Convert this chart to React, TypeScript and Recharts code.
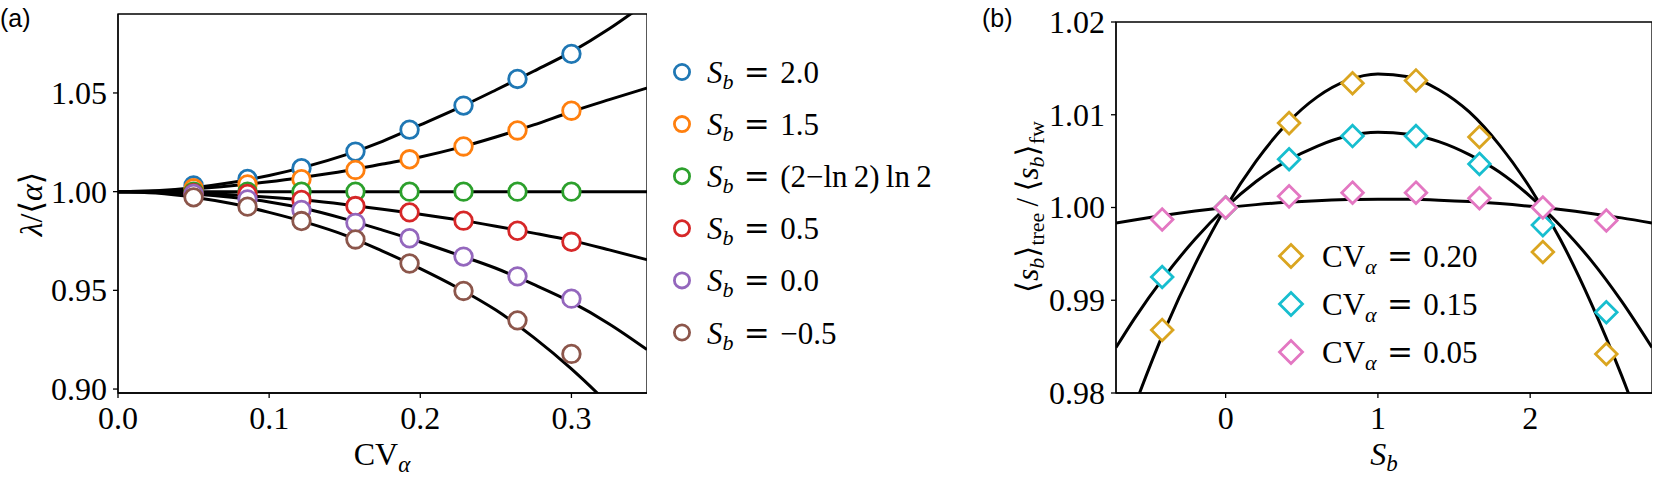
import React from 'react';
import { ComposedChart, Line, Scatter, XAxis, YAxis, ReferenceArea } from 'recharts';

// ---------- Panel (a) data ----------
const cvMarkers = [0.05, 0.0857, 0.1214, 0.1571, 0.1929, 0.2286, 0.2643, 0.3];
const sbNames = ['2.0', '1.5', '(2\u2212ln\u20092)\u2009ln\u20092', '0.5', '0.0', '\u22120.5'];
const sbColors = ['#1f77b4', '#ff7f0e', '#2ca02c', '#d62728', '#9467bd', '#8c564b'];
const ratioSb20 = [1.0031, 1.0064, 1.0119, 1.0203, 1.0314, 1.0436, 1.0571, 1.0698];
const ratioSb15 = [1.0017, 1.0037, 1.0063, 1.011, 1.0164, 1.0229, 1.031, 1.041];
const ratioSbLn = [1.0, 1.0, 1.0, 1.0, 1.0, 1.0, 1.0, 1.0];
const ratioSb05 = [0.9992, 0.9988, 0.9958, 0.9927, 0.9895, 0.9853, 0.9802, 0.9746];
const ratioSb00 = [0.9988, 0.9961, 0.9907, 0.9842, 0.9764, 0.9671, 0.9571, 0.9458];
const ratioSbM05 = [0.9971, 0.9924, 0.9851, 0.9758, 0.9636, 0.9497, 0.9348, 0.9178];

const cvCurve = [0, 0.025, 0.05, 0.075, 0.1, 0.125, 0.15, 0.175, 0.2, 0.225, 0.25, 0.275, 0.3, 0.325, 0.35];
const curveSb20 = [1.0, 1.0005, 1.002, 1.0046, 1.0082, 1.0128, 1.0185, 1.0255, 1.0338, 1.0423, 1.0515, 1.061, 1.0708, 1.0825, 1.096];
const curveSb15 = [1.0, 1.0003, 1.0014, 1.003, 1.005, 1.0076, 1.0105, 1.014, 1.0176, 1.0222, 1.0277, 1.0338, 1.0405, 1.0466, 1.0525];
const curveSbLn = [1, 1, 1, 1, 1, 1, 1, 1, 1, 1, 1, 1, 1, 1, 1];
const curveSb05 = [1.0, 0.9998, 0.9993, 0.9984, 0.9972, 0.9956, 0.9935, 0.9911, 0.9885, 0.9857, 0.9825, 0.979, 0.9752, 0.9705, 0.9655];
const curveSb00 = [1.0, 0.9997, 0.9988, 0.9972, 0.9948, 0.9912, 0.9862, 0.9805, 0.9745, 0.968, 0.9612, 0.953, 0.944, 0.933, 0.92];
const curveSbM05 = [1.0, 0.9993, 0.9972, 0.994, 0.9895, 0.9843, 0.978, 0.9699, 0.961, 0.9512, 0.94, 0.9262, 0.9102, 0.892, 0.872];

const aXTicks = [0, 0.1, 0.2, 0.3];
const aYTicks = [0.9, 0.95, 1.0, 1.05];
const aXDomain = [0, 0.35];
const aYDomain = [0.898, 1.09];

// ---------- Panel (b) data ----------
const sbMarkers = [-0.4167, 0, 0.4167, 0.8333, 1.25, 1.6667, 2.0833, 2.5];
const cvNames = ['0.20', '0.15', '0.05'];
const cvColors = ['#daa520', '#17becf', '#e377c2'];
const treeCv20 = [0.9868, 1.0, 1.0091, 1.0134, 1.0137, 1.0076, 0.9952, 0.9842];
const treeCv15 = [0.9925, 1.0, 1.0052, 1.0077, 1.0077, 1.0047, 0.9981, 0.9887];
const treeCv05 = [0.9987, 1.0, 1.0012, 1.0016, 1.0016, 1.001, 1.0, 0.9986];

const sbCurve = [-0.72, -0.6, -0.4, -0.2, 0, 0.2, 0.4, 0.6, 0.8, 1.0, 1.2, 1.4, 1.6, 1.8, 2.0, 2.2, 2.4, 2.6, 2.8];
const curveCv20 = [0.9731, 0.9785, 0.9868, 0.9939, 1.0, 1.005, 1.009, 1.0119, 1.0137, 1.0144, 1.0141, 1.0127, 1.0103, 1.0067, 1.0021, 0.9965, 0.9897, 0.9819, 0.9731];
const curveCv15 = [0.9849, 0.988, 0.9926, 0.9966, 1.0, 1.0028, 1.005, 1.0066, 1.0077, 1.0081, 1.0079, 1.0071, 1.0057, 1.0038, 1.0012, 0.998, 0.9943, 0.9899, 0.9849];
const curveCv05 = [0.99832, 0.99866, 0.99917, 0.99962, 1.0, 1.00031, 1.00056, 1.00074, 1.00085, 1.0009, 1.00088, 1.00079, 1.00064, 1.00042, 1.00013, 0.99978, 0.99936, 0.99888, 0.99832];

const bXTicks = [0, 1, 2];
const bYTicks = [0.98, 0.99, 1.0, 1.01, 1.02];
const bXDomain = [-0.72, 2.8];
const bYDomain = [0.98, 1.02];

// ---------- helpers ----------
const zip = (xs: number[], ys: number[]) => xs.map((x, i) => ({ x, y: ys[i] }));

const aMarkerSeries = [ratioSb20, ratioSb15, ratioSbLn, ratioSb05, ratioSb00, ratioSbM05];
const aCurveSeries = [curveSb20, curveSb15, curveSbLn, curveSb05, curveSb00, curveSbM05];
const bMarkerSeries = [treeCv20, treeCv15, treeCv05];
const bCurveSeries = [curveCv20, curveCv15, curveCv05];

const SERIF = "'Liberation Serif', 'DejaVu Serif', serif";
const EQ_FONT = "'DejaVu Serif', serif";
const SP = '\u2004';

const XTick = (fmt: (v: number) => string) => (p: any) => (
  <text
    x={p.x}
    y={p.y}
    dy="0.71em"
    textAnchor="middle"
    fontFamily={SERIF}
    fontSize={32}
    fill="#000"
  >
    {fmt(p.payload.value)}
  </text>
);
const YTick = (fmt: (v: number) => string) => (p: any) => (
  <text
    x={p.x}
    y={p.y}
    dy="0.34em"
    textAnchor="end"
    fontFamily={SERIF}
    fontSize={32}
    fill="#000"
  >
    {fmt(p.payload.value)}
  </text>
);

const circleShape = (color: string) => (p: any) => (
  <circle cx={p.cx} cy={p.cy} r={8.8} fill="#fff" stroke={color} strokeWidth={2.8} />
);
const diamondShape = (color: string) => (p: any) => {
  const h = 10.8;
  return (
    <polygon
      points={`${p.cx},${p.cy - h} ${p.cx + h},${p.cy} ${p.cx},${p.cy + h} ${p.cx - h},${p.cy}`}
      fill="#fff"
      stroke={color}
      strokeWidth={2.8}
    />
  );
};

const SbText = ({ x, y, value }: { x: number; y: number; value: string }) => (
  <text x={x} y={y} fontFamily={SERIF} fontSize={31} fill="#000">
    <tspan fontStyle="italic">S</tspan>
    <tspan fontStyle="italic" fontSize={22} dy={6}>b</tspan>
    <tspan dy={-6}>{SP}</tspan>
    <tspan fontFamily={EQ_FONT} fontWeight={300}>=</tspan>
    <tspan>{SP + value}</tspan>
  </text>
);

const CvText = ({ x, y, value }: { x: number; y: number; value: string }) => (
  <text x={x} y={y} fontFamily={SERIF} fontSize={31} fill="#000">
    <tspan>CV</tspan>
    <tspan fontStyle="italic" fontSize={22} dy={7}>{'\u03b1'}</tspan>
    <tspan dy={-7}>{SP}</tspan>
    <tspan fontFamily={EQ_FONT} fontWeight={300}>=</tspan>
    <tspan>{SP + value}</tspan>
  </text>
);

const axisLineStyle = { stroke: '#000', strokeWidth: 1.3 };

export default function App() {
  return (
    <div style={{ position: 'absolute', left: 0, top: 0, width: 1661, height: 485, background: '#fff' }}>
      {/* Panel (a) */}
      <div style={{ position: 'absolute', left: 0, top: 0 }}>
        <ComposedChart width={647} height={485} margin={{ top: 14, right: 0, bottom: 0, left: 0 }}>
          <XAxis
            dataKey="x"
            type="number"
            domain={aXDomain}
            ticks={aXTicks}
            allowDataOverflow
            height={92}
            tickSize={5}
            tickMargin={8}
            tick={XTick((v) => v.toFixed(1))}
            stroke="#000"
            axisLine={axisLineStyle}
            tickLine={axisLineStyle}
          />
          <YAxis
            dataKey="y"
            type="number"
            domain={aYDomain}
            ticks={aYTicks}
            allowDataOverflow
            width={118}
            tickSize={5}
            tickMargin={6}
            tick={YTick((v) => v.toFixed(2))}
            stroke="#000"
            axisLine={axisLineStyle}
            tickLine={axisLineStyle}
          />
          {aCurveSeries.map((c, i) => (
            <Line
              key={'ac' + i}
              data={zip(cvCurve, c)}
              dataKey="y"
              type="monotone"
              stroke="#000"
              strokeWidth={3}
              dot={false}
              isAnimationActive={false}
            />
          ))}
          {aMarkerSeries.map((s, i) => (
            <Scatter
              key={'am' + i}
              data={zip(cvMarkers, s)}
              dataKey="y"
              shape={circleShape(sbColors[i])}
              isAnimationActive={false}
            />
          ))}
          <ReferenceArea
            x1={aXDomain[0]}
            x2={aXDomain[1]}
            y1={aYDomain[0]}
            y2={aYDomain[1]}
            fill="none"
            fillOpacity={0}
            stroke="#000"
            strokeWidth={1.3}
          />
        </ComposedChart>
      </div>

      {/* Panel (b) */}
      <div style={{ position: 'absolute', left: 960, top: 0 }}>
        <ComposedChart width={692} height={485} margin={{ top: 22, right: 0, bottom: 0, left: 0 }}>
          <XAxis
            dataKey="x"
            type="number"
            domain={bXDomain}
            ticks={bXTicks}
            allowDataOverflow
            height={92}
            tickSize={5}
            tickMargin={8}
            tick={XTick((v) => String(v))}
            stroke="#000"
            axisLine={axisLineStyle}
            tickLine={axisLineStyle}
          />
          <YAxis
            dataKey="y"
            type="number"
            domain={bYDomain}
            ticks={bYTicks}
            allowDataOverflow
            width={156}
            tickSize={5}
            tickMargin={6}
            tick={YTick((v) => v.toFixed(2))}
            stroke="#000"
            axisLine={axisLineStyle}
            tickLine={axisLineStyle}
          />
          {bCurveSeries.map((c, i) => (
            <Line
              key={'bc' + i}
              data={zip(sbCurve, c)}
              dataKey="y"
              type="monotone"
              stroke="#000"
              strokeWidth={3}
              dot={false}
              isAnimationActive={false}
            />
          ))}
          {bMarkerSeries.map((s, i) => (
            <Scatter
              key={'bm' + i}
              data={zip(sbMarkers, s)}
              dataKey="y"
              shape={diamondShape(cvColors[i])}
              isAnimationActive={false}
            />
          ))}
          <ReferenceArea
            x1={bXDomain[0]}
            x2={bXDomain[1]}
            y1={bYDomain[0]}
            y2={bYDomain[1]}
            fill="none"
            fillOpacity={0}
            stroke="#000"
            strokeWidth={1.3}
          />
        </ComposedChart>
      </div>

      {/* Text overlay: panel labels, axis titles, legends */}
      <svg
        width={1661}
        height={485}
        style={{ position: 'absolute', left: 0, top: 0, pointerEvents: 'none' }}
      >
        <text x={0} y={27} fontFamily="'Liberation Sans', Arial, sans-serif" fontSize={25} fill="#000">(a)</text>
        <text x={982} y={27} fontFamily="'Liberation Sans', Arial, sans-serif" fontSize={25} fill="#000">(b)</text>

        {/* panel a axis titles */}
        <text x={382} y={465} textAnchor="middle" fontFamily={SERIF} fontSize={32} fill="#000">
          <tspan>CV</tspan>
          <tspan fontStyle="italic" fontSize={23} dy={7}>{'\u03b1'}</tspan>
        </text>
        <text
          transform="translate(42,204) rotate(-90)"
          textAnchor="middle"
          fontFamily={SERIF}
          fontSize={32}
          fill="#000"
        >
          <tspan fontStyle="italic">{'\u03bb'}</tspan>
          <tspan>{'/\u27e8'}</tspan>
          <tspan fontStyle="italic">{'\u03b1'}</tspan>
          <tspan>{'\u27e9'}</tspan>
        </text>

        {/* panel a legend */}
        {sbNames.map((name, i) => {
          const y = 72 + 52.1 * i;
          return (
            <g key={'la' + i}>
              <circle cx={682} cy={y} r={7.6} fill="#fff" stroke={sbColors[i]} strokeWidth={2.8} />
              <SbText x={707} y={y + 11} value={name} />
            </g>
          );
        })}

        {/* panel b axis titles */}
        <text x={1384} y={465} textAnchor="middle" fontFamily={SERIF} fontSize={32} fill="#000">
          <tspan fontStyle="italic">S</tspan>
          <tspan fontStyle="italic" fontSize={23} dy={6}>b</tspan>
        </text>
        <text
          transform="translate(1038,207) rotate(-90)"
          textAnchor="middle"
          fontFamily={SERIF}
          fontSize={31}
          fill="#000"
        >
          <tspan>{'\u27e8'}</tspan>
          <tspan fontStyle="italic">s</tspan>
          <tspan fontStyle="italic" fontSize={22} dy={6}>b</tspan>
          <tspan dy={-6}>{'\u27e9'}</tspan>
          <tspan fontSize={22} dy={6}>tree</tspan>
          <tspan dy={-6}>{'\u2009/\u2009\u27e8'}</tspan>
          <tspan fontStyle="italic">s</tspan>
          <tspan fontStyle="italic" fontSize={22} dy={6}>b</tspan>
          <tspan dy={-6}>{'\u27e9'}</tspan>
          <tspan fontSize={22} dy={6}>fw</tspan>
        </text>

        {/* panel b legend */}
        {cvNames.map((name, i) => {
          const y = 256 + 48 * i;
          const h = 11.5;
          return (
            <g key={'lb' + i}>
              <polygon
                points={`1291,${y - h} ${1291 + h},${y} 1291,${y + h} ${1291 - h},${y}`}
                fill="#fff"
                stroke={cvColors[i]}
                strokeWidth={2.8}
              />
              <CvText x={1322} y={y + 11} value={name} />
            </g>
          );
        })}
      </svg>
    </div>
  );
}
